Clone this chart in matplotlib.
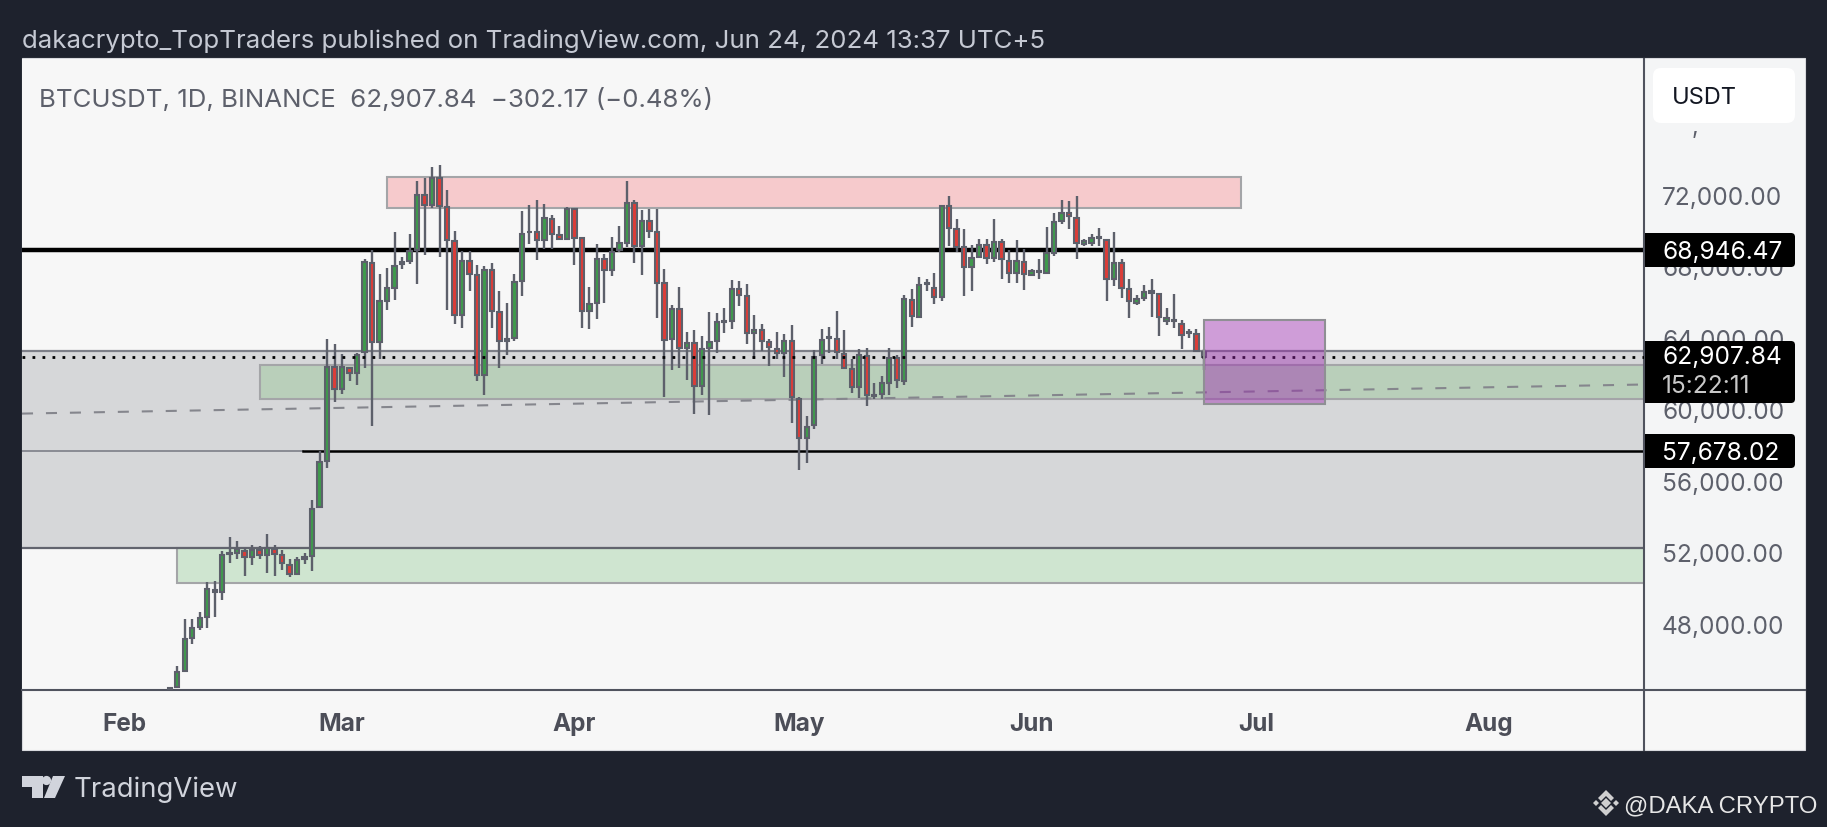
import matplotlib
matplotlib.use('Agg')
import matplotlib.dates as mdates
import matplotlib.pyplot as plt
import pandas as pd
from matplotlib.patches import Circle, FancyBboxPatch, Polygon, Rectangle
from matplotlib.lines import Line2D
from matplotlib.transforms import Affine2D

plt.rcParams['font.family'] = ['Inter', 'DejaVu Sans']

W, H = 1827, 828

opens = [44320, 44460, 45360, 47190, 47800, 48370, 49900, 49770, 51910, 51930, 52070, 51710, 52120, 51850, 52200, 51830, 51300, 50770, 51630, 51790, 54520, 57080, 62380,
         61150, 62340, 62010, 63190, 68200, 63760, 66080, 66810, 68120, 68280, 68950, 71990, 71440, 72960, 71330, 69400, 65290, 68320, 67550, 61930, 67790, 65470, 63800, 64010, 67180, 69910, 69910, 69470, 70680, 69790, 69560,
         71240, 69600, 65490, 65960, 68400, 67790, 68910, 69340, 71540, 69150, 70570, 69930, 67060, 63920, 65640, 63440, 63740, 61310, 63440, 63850, 64890, 64970, 66740, 66350, 64300, 64430, 63760, 63400, 63180, 63810,
         60600, 58400, 59110, 63030, 64000, 63960, 63120, 62280, 61250, 62990, 60750, 60860, 61500, 62880, 61590, 66130, 65190, 67000, 66820, 66290, 71370, 70080, 69080, 67970, 68550, 69190, 68480, 69370, 68310, 67640, 68270,
         67550, 67690, 67660, 68780, 70530, 70980, 70740, 69260, 69300, 69640, 69470, 67320, 68200, 66720, 65980, 66240, 66500, 66480, 64930, 65010, 64800, 64260, 64240, 63200]
closes = [44420, 45310, 47150, 47760, 48330, 49920, 49770, 51830, 51970, 52200, 51710, 52120, 51830, 52220, 51910, 51380, 50790, 51550, 51710, 54440, 57040, 62380, 61150,
          62380, 62010, 63070, 68240, 63760, 66040, 66770, 68040, 68240, 68890, 71990, 71440, 72960, 71360, 69460, 65290, 68320, 67590, 61930, 67790, 65510, 63800, 63960, 67140, 69830, 69950, 69460, 70700, 69840, 69560, 71240,
          69600, 65490, 65900, 68440, 67790, 68810, 69300, 71540, 69150, 70570, 70010, 67100, 63900, 65640, 63440, 63720, 61310, 63400, 63770, 64890, 64930, 66760, 66430, 64280, 64450, 63810, 63480, 63180, 63810, 60670,
          58400, 58990, 62930, 63870, 64050, 63210, 62320, 61250, 63030, 60820, 60820, 61460, 62880, 61650, 66160, 65230, 66990, 67080, 66310, 71390, 70160, 69090, 67970, 68480, 69230, 68480, 69370, 68400, 67640, 68290, 67560,
          67730, 67750, 68740, 70500, 71020, 70810, 69340, 69410, 69620, 69600, 67320, 68200, 66800, 66050, 66200, 66570, 66610, 65170, 65120, 64930, 64150, 64330, 63250, 62910]
highs = [44460, 45640, 48250, 48250, 48650, 50320, 50400, 52070, 52850, 52600, 52260, 52400, 52360, 53010, 52400, 52120, 51630, 51710, 51950, 54920, 57650, 63960, 63640,
         63110, 62380, 63150, 68440, 68950, 67590, 67930, 69910, 68550, 69830, 72760, 72960, 73570, 73700, 72310, 69970, 68850, 68890, 68080, 68040, 68200, 66610, 65960, 67590, 71090, 71460, 71700, 71520, 70900, 70270, 71340,
         71280, 69600, 66850, 69280, 68720, 69650, 70270, 72770, 71710, 71150, 71240, 71200, 67880, 65830, 66850, 64330, 64460, 64110, 65450, 65420, 65680, 67230, 67170, 67040, 65270, 64780, 63960, 64330, 64220, 64710,
         60690, 59630, 63310, 64520, 64610, 65490, 64430, 62840, 63400, 63440, 61500, 61870, 63440, 63030, 66430, 66720, 67400, 67320, 67660, 71430, 71950, 70640, 70080, 69190, 69560, 69520, 70640, 69520, 68910, 69470, 69000,
         67840, 68440, 70210, 71020, 71710, 71650, 71950, 69560, 69840, 70160, 69560, 69930, 68400, 67320, 66390, 66950, 67280, 66540, 65680, 66480, 64990, 64520, 64480, 63360]
lows = [44320, 44420, 45310, 46860, 47640, 47780, 48390, 49300, 51380, 51630, 50670, 51260, 51630, 50830, 50690, 51020, 50590, 50730, 51340, 50970, 54480, 56720, 60420,
        60830, 61560, 61360, 62340, 59080, 62840, 65550, 66100, 67870, 68120, 67020, 68650, 71290, 68550, 65590, 64780, 64580, 66610, 61600, 60810, 64580, 62290, 63030, 63800, 66370, 69260, 68340, 69000, 69000, 69520, 69470,
        68070, 64560, 64480, 65080, 65980, 67470, 68810, 69090, 68220, 67510, 69600, 65120, 60690, 62190, 62320, 61630, 59740, 60820, 59670, 63180, 64260, 64520, 65790, 63640, 62840, 63290, 62430, 62840, 61810, 59240,
        56620, 57020, 58880, 62560, 63180, 62840, 62280, 60940, 60640, 60190, 60600, 60600, 60790, 61200, 61350, 64600, 65120, 66610, 65880, 66050, 69150, 68810, 66350, 66610, 68520, 68140, 68250, 67280, 67100, 67100, 66670,
        67470, 67280, 67600, 68590, 70380, 70120, 68400, 69150, 69150, 69150, 66050, 66910, 66240, 65120, 65860, 66050, 65170, 64110, 64710, 64580, 63400, 64000, 63210, 62190]

price_ticks = [48000, 52000, 56000, 60000, 64000, 68000, 72000]
price_labels = ['48,000.00', '52,000.00', '56,000.00', '60,000.00', '64,000.00', '68,000.00', '72,000.00']
month_ticks = ['2024-02-01', '2024-03-01', '2024-04-01', '2024-05-01', '2024-06-01', '2024-07-01', '2024-08-01']
month_labels = ['Feb', 'Mar', 'Apr', 'May', 'Jun', 'Jul', 'Aug']

level_high = 68946.47
level_last = 62907.84
level_low = 57678.02

BG = '#1e222d'
PANEL = '#f7f7f7'
AXIS = '#50535e'
WICK = '#5d606b'
UP = '#3f9a4c'
DOWN = '#dc3d38'

dates = pd.date_range('2024-02-07', periods=len(opens), freq='D')
x = mdates.date2num(dates)


def day(s):
    return mdates.date2num(pd.Timestamp(s))


x0, x1 = day('2024-01-18 07:00'), day('2024-08-21 17:00')

fig = plt.figure(figsize=(W / 100, H / 100), dpi=100, facecolor=BG)
# pixel coords, top-left origin
px = Affine2D().scale(1, -1).translate(0, H)

fig.add_artist(Rectangle((22, 59), 1783, 692, transform=px, fc=PANEL, ec='#d8d9dd', lw=0.8, zorder=-2))
fig.add_artist(Rectangle((1645, 60), 159, 631, transform=px, fc='#f4f5f6', ec='none', zorder=-1))

ax = fig.add_axes([22 / W, 1 - 691 / H, 1622 / W, 631 / H], facecolor=PANEL)
ax.set_xlim(x0, x1)
ax.set_ylim(44280, 79620)


def zone(left, right, top, bottom, fc, ec='#a4a5a8', z=1.0, alpha=None):
    ax.add_patch(Rectangle((left, bottom), right - left, top - bottom, fc=fc, ec=ec, lw=1.5, zorder=z, alpha=alpha))


# grey block, then the coloured zones on it
zone(x0, x1, 63250, 52220, '#d6d7d9', ec='none')
ax.plot([x0, x1], [63250, 63250], color='#7d7f88', lw=1.6, zorder=1.1)
ax.plot([x0, x1], [52220, 52220], color='#62646e', lw=1.6, zorder=1.6)
zone(day('2024-02-19'), x1 + 5, 62500, 60580, '#b9cfba', z=1.2)
zone(day('2024-02-08'), x1 + 5, 52220, 50280, '#cfe5d0', z=1.2)
zone(day('2024-03-07'), day('2024-06-29'), 73000, 71260, '#f6cacc', z=1.2)

# trend line
ax.plot([x0, x1], [59760, 61390], color='#85868d', lw=1.5, ls=(0, (5.3, 6.2)), zorder=1.5)

ax.plot([x0, x1], [level_high, level_high], color='black', lw=3.2, zorder=2)
ax.plot([x0, day('2024-02-24 20:00')], [level_low, level_low], color='#7d7f88', lw=1.2, zorder=2)
ax.plot([day('2024-02-24 20:00'), x1], [level_low, level_low], color='black', lw=1.8, zorder=2)

ax.vlines(x, lows, highs, color=WICK, lw=1.7, zorder=3)
colors = [UP if c >= o else DOWN for o, c in zip(opens, closes)]
ax.bar(x, [abs(c - o) for o, c in zip(opens, closes)], bottom=[min(o, c) for o, c in zip(opens, closes)],
       width=0.58, color=colors, edgecolor=WICK, linewidth=1.5, zorder=4)

ax.plot([x0, x1], [level_last, level_last], color='black', lw=2, ls=(0, (1, 2.6)), zorder=5)

# purple box goes over everything
zone(day('2024-06-24'), day('2024-07-10 05:00'), 64990, 60300, '#9c27b0', ec='none', z=6, alpha=0.43)
zone(day('2024-06-24'), day('2024-07-10 05:00'), 64990, 60300, 'none', ec='#8f8f94', z=6.1)

ax.set_xticks([day(m) for m in month_ticks], month_labels)
ax.set_yticks(price_ticks, price_labels)
ax.yaxis.tick_right()
ax.tick_params(axis='x', length=0, pad=15.5, labelsize=17.5, labelcolor='#4c4e58')
ax.tick_params(axis='y', length=0, pad=13, labelsize=17.6, labelcolor=WICK)
for t in ax.get_xticklabels():
    t.set_fontweight('bold')
for side in ['left', 'top']:
    ax.spines[side].set_visible(False)
for side in ['right', 'bottom']:
    ax.spines[side].set_color(AXIS)
    ax.spines[side].set_linewidth(1.5)

fig.add_artist(Line2D([1644, 1644], [691, 751], transform=px, color=AXIS, lw=1.5, zorder=1))
fig.add_artist(Line2D([1644, 1805], [691, 691], transform=px, color=AXIS, lw=1.5, zorder=1))


def badge(left, top, right, bottom, fc, r=4):
    fig.add_artist(FancyBboxPatch((left + r, top + r), right - left - 2 * r, bottom - top - 2 * r, transform=px,
                                  boxstyle=f'round,pad={r},rounding_size={r}', fc=fc, ec='none', zorder=5))


def label(xp, yp, s, color, size, z=6, **kw):
    fig.text(xp, yp, s, transform=px, color=color, fontsize=size, va='center', zorder=z, **kw)


badge(1645, 234, 1795, 268, 'black')
badge(1645, 342, 1795, 404, 'black')
badge(1645, 435, 1795, 469, 'black')
fig.add_artist(Rectangle((1645, 234), 6, 34, transform=px, fc='black', ec='none', zorder=5))
fig.add_artist(Rectangle((1645, 342), 6, 62, transform=px, fc='black', ec='none', zorder=5))
fig.add_artist(Rectangle((1645, 435), 6, 34, transform=px, fc='black', ec='none', zorder=5))
label(1662, 252.5, f'{level_high:,.2f}', 'white', 17.6)
label(1662, 358, f'{level_last:,.2f}', 'white', 17.6)
label(1662, 387, '15:22:11', '#c9c9c9', 17.6)
label(1662, 453.5, f'{level_low:,.2f}', 'white', 17.6)

badge(1653, 69, 1795, 124, 'white', r=8)
label(1672, 98, 'USDT', '#131722', 17)
label(1692, 128, ',', WICK, 16.8)

label(22, 41, 'dakacrypto_TopTraders published on TradingView.com, Jun 24, 2024 13:37 UTC+5', '#c5c9d3', 18.6)
label(39, 100, 'BTCUSDT, 1D, BINANCE  62,907.84  \u2212302.17 (\u22120.48%)', WICK, 18.6)

# TradingView mark
LOGO = '#d1d4dc'
fig.add_artist(Polygon([(22, 777), (43, 777), (43, 799), (32, 799), (32, 788), (22, 788)], transform=px, fc=LOGO, ec='none'))
fig.add_artist(Circle((46.5, 781.5), 4.6, transform=px, fc=LOGO, ec='none'))
fig.add_artist(Polygon([(53, 777), (65, 777), (55, 799), (44, 799)], transform=px, fc=LOGO, ec='none'))
label(74, 790, 'TradingView', LOGO, 19.8)

# watermark: diamond mark and handle
MARK = '#cfcfcf'
fig.add_artist(Polygon([(1606, 799), (1611, 804), (1606, 809), (1601, 804)], transform=px, fc=MARK, ec='none'))
fig.add_artist(Polygon([(1596, 801), (1599, 804), (1596, 807), (1593, 804)], transform=px, fc=MARK, ec='none'))
fig.add_artist(Polygon([(1616, 801), (1619, 804), (1616, 807), (1613, 804)], transform=px, fc=MARK, ec='none'))
fig.add_artist(Polygon([(1606, 791), (1614, 799), (1611, 802), (1606, 797), (1601, 802), (1598, 799)], transform=px, fc=MARK, ec='none'))
fig.add_artist(Polygon([(1606, 817), (1614, 809), (1611, 806), (1606, 811), (1601, 806), (1598, 809)], transform=px, fc=MARK, ec='none'))
label(1624, 806, '@DAKA CRYPTO', '#e6e6e6', 17.2, family='Liberation Sans')

fig.savefig('out.png', dpi=100, facecolor=BG)
